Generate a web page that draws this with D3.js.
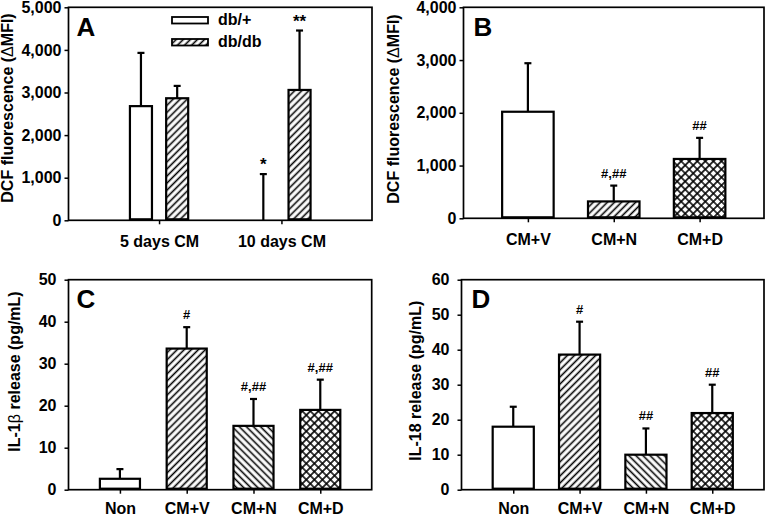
<!DOCTYPE html>
<html><head><meta charset="utf-8">
<script src="https://cdn.jsdelivr.net/npm/d3@7"></script>
<style>
body{margin:0;background:#fff}
svg{display:block}
text{font-family:"Liberation Sans",Arial,sans-serif;font-weight:bold;fill:#000}
</style>
</head><body><svg id="c" width="768" height="518"></svg>
<script>
// ---------- data ----------
const groupsA = ["5 days CM", "10 days CM"];
const seriesA = ["db/+", "db/db"];
const dbPlusMean = [2680, 0];
const dbPlusSD = [1250, 1085];
const dbPlusMark = ["", "*"];
const dbdbMean = [2865, 3060];
const dbdbSD = [290, 1395];
const dbdbMark = ["", "**"];
const ticksA = [0, 1000, 2000, 3000, 4000, 5000];

const catsB = ["CM+V", "CM+N", "CM+D"];
const meanB = [2020, 320, 1125];
const sdB = [920, 300, 400];
const markB = ["", "#,##", "##"];
const ticksB = [0, 1000, 2000, 3000, 4000];

const catsCD = ["Non", "CM+V", "CM+N", "CM+D"];
const meanC = [2.6, 33.6, 15.2, 19.0];
const sdC = [2.3, 5.1, 6.4, 7.2];
const markC = ["", "#", "#,##", "#,##"];
const ticksC = [0, 10, 20, 30, 40, 50];

const meanD = [18.0, 38.6, 10.0, 21.9];
const sdD = [5.7, 9.4, 7.5, 8.1];
const markD = ["", "#", "##", "##"];
const ticksD = [0, 10, 20, 30, 40, 50, 60];

const fillsA = ["none", "fwd"];
const fillsB = ["none", "fwd", "cross"];
const fillsCD = ["none", "fwd", "back", "cross"];

// ---------- setup ----------
const svg = d3.select("#c");
svg.append("rect").attr("width", 768).attr("height", 518).attr("fill", "#fff");
const defs = svg.append("defs");
function hatch(id, angle, cross, size) {
  const p = defs.append("pattern").attr("id", id)
    .attr("patternUnits", "userSpaceOnUse")
    .attr("width", size).attr("height", size)
    .attr("patternTransform", `rotate(${angle})`);
  p.append("rect").attr("width", size).attr("height", size).attr("fill", "#fff");
  p.append("line").attr("x1", size / 2).attr("y1", -1).attr("x2", size / 2).attr("y2", size + 1)
    .attr("stroke", "#000").attr("stroke-width", 1.6);
  if (cross) p.append("line").attr("x1", -1).attr("y1", size / 2).attr("x2", size + 1).attr("y2", size / 2)
    .attr("stroke", "#000").attr("stroke-width", 1.5);
}
hatch("fwd", 45, false, 5);
hatch("back", -45, false, 5);
hatch("cross", 45, true, 5.7);
const fillOf = f => f === "none" ? "#fff" : `url(#${f})`;

function panel(o) {
  const g = svg.append("g");
  const y = d3.scaleLinear().domain([0, d3.max(o.ticks)]).range([o.bottom, o.top]);
  const x = d3.scalePoint().domain(o.cats).range([o.left, o.right]).padding(o.pad);

  // y axis
  const ya = g.append("g").attr("transform", `translate(${o.left},0)`)
    .call(d3.axisLeft(y).tickValues(o.ticks).tickSize(4).tickPadding(o.tickPad).tickFormat(o.fmt));
  ya.select(".domain").remove();
  ya.attr("font-family", null).attr("font-size", 16);
  ya.selectAll("line").attr("stroke-width", 1.5);

  // x axis
  const xa = g.append("g").attr("transform", `translate(0,${o.bottom})`)
    .call(d3.axisBottom(x).tickSize(4).tickPadding(o.xPad));
  xa.select(".domain").remove();
  xa.attr("font-family", null).attr("font-size", 16);
  xa.selectAll("line").attr("stroke-width", 1.5);

  // bars
  o.bars.forEach(b => {
    const cx = x(b.cat) + (b.off || 0) * x.step();
    const w = b.w * x.step();
    const top = y(b.mean + b.sd);
    g.append("line").attr("x1", cx).attr("x2", cx).attr("y1", y(b.mean)).attr("y2", top)
      .attr("stroke", "#000").attr("stroke-width", 2.2);
    g.append("line").attr("x1", cx - 3.5).attr("x2", cx + 3.5).attr("y1", top).attr("y2", top)
      .attr("stroke", "#000").attr("stroke-width", 2.2);
    if (b.mean > 0) {
      g.append("rect").attr("x", cx - w / 2).attr("y", y(b.mean))
        .attr("width", w).attr("height", y(0) - y(b.mean) - 1)
        .attr("fill", fillOf(b.fill)).attr("stroke", "#000").attr("stroke-width", 2.2);
    }
    if (b.mark) {
      const star = b.mark.indexOf("*") >= 0;
      g.append("text").attr("x", cx).attr("y", top - (star ? 4 : 8))
        .attr("text-anchor", "middle").attr("font-size", star ? 17 : 13).text(b.mark);
    }
  });

  // frame
  g.append("rect").attr("x", o.left).attr("y", o.top)
    .attr("width", o.right - o.left).attr("height", o.bottom - o.top)
    .attr("fill", "none").attr("stroke", "#000").attr("stroke-width", 1.7);

  // panel letter
  g.append("text").attr("x", o.left + o.letterDx).attr("y", o.top + 28.5)
    .attr("font-size", 26).text(o.letter);

  // y label
  const yl = g.append("text").attr("text-anchor", "middle").attr("font-size", 16)
    .attr("transform", `translate(${o.labelX},${o.labelY}) rotate(-90)`);
  o.label.forEach(part => {
    yl.append("tspan").attr("font-weight", part[1] ? "normal" : "bold").text(part[0]);
  });
  return { g, x, y };
}

// ---------- Panel A ----------
const barsA = [];
groupsA.forEach((c, i) => {
  barsA.push({ cat: c, off: -0.148, w: 0.18, mean: dbPlusMean[i], sd: dbPlusSD[i], fill: fillsA[0], mark: dbPlusMark[i] });
  barsA.push({ cat: c, off: 0.148, w: 0.18, mean: dbdbMean[i], sd: dbdbSD[i], fill: fillsA[1], mark: dbdbMark[i] });
});
const pA = panel({
  left: 68.5, right: 372, top: 7.3, bottom: 220.3, pad: 0.74,
  cats: groupsA, ticks: ticksA, fmt: d3.format(","), tickPad: 3, xPad: 11.5,
  bars: barsA, letter: "A", letterDx: 8,
  label: [["DCF fluorescence (", false], ["\u0394", true], ["MFI)", false]],
  labelX: 13, labelY: 108
});
// legend
seriesA.forEach((s, i) => {
  const ly = 17 + i * 22;
  pA.g.append("rect").attr("x", 172).attr("y", ly).attr("width", 36).attr("height", 6.5)
    .attr("fill", fillOf(fillsA[i])).attr("stroke", "#000").attr("stroke-width", 1.8);
  pA.g.append("text").attr("x", 218).attr("y", ly + 8).attr("font-size", 16).text(s);
});

// ---------- Panel B ----------
panel({
  left: 463.5, right: 764, top: 7.3, bottom: 218.3, pad: 0.75,
  cats: catsB, ticks: ticksB, fmt: d3.format(","), tickPad: 3, xPad: 11.5,
  bars: catsB.map((c, i) => ({ cat: c, w: 0.6, mean: meanB[i], sd: sdB[i], fill: fillsB[i], mark: markB[i] })),
  letter: "B", letterDx: 10,
  label: [["DCF fluorescence (", false], ["\u0394", true], ["MFI)", false]],
  labelX: 399, labelY: 109
});

// ---------- Panel C ----------
panel({
  left: 68.5, right: 371.7, top: 279.7, bottom: 489.7, pad: 0.77,
  cats: catsCD, ticks: ticksC, fmt: d3.format("d"), tickPad: 8, xPad: 8.5,
  bars: catsCD.map((c, i) => ({ cat: c, w: 0.6, mean: meanC[i], sd: sdC[i], fill: fillsCD[i], mark: markC[i] })),
  letter: "C", letterDx: 8,
  label: [["IL-1", false], ["\u03B2", true], [" release (pg/mL)", false]],
  labelX: 20, labelY: 371.5
});

// ---------- Panel D ----------
panel({
  left: 461.5, right: 764, top: 279.7, bottom: 489.7, pad: 0.78,
  cats: catsCD, ticks: ticksD, fmt: d3.format("d"), tickPad: 8, xPad: 8.5,
  bars: catsCD.map((c, i) => ({ cat: c, w: 0.62, mean: meanD[i], sd: sdD[i], fill: fillsCD[i], mark: markD[i] })),
  letter: "D", letterDx: 10,
  label: [["IL-18 release (pg/mL)", false]],
  labelX: 421, labelY: 380.7
});
</script>
</body></html>
